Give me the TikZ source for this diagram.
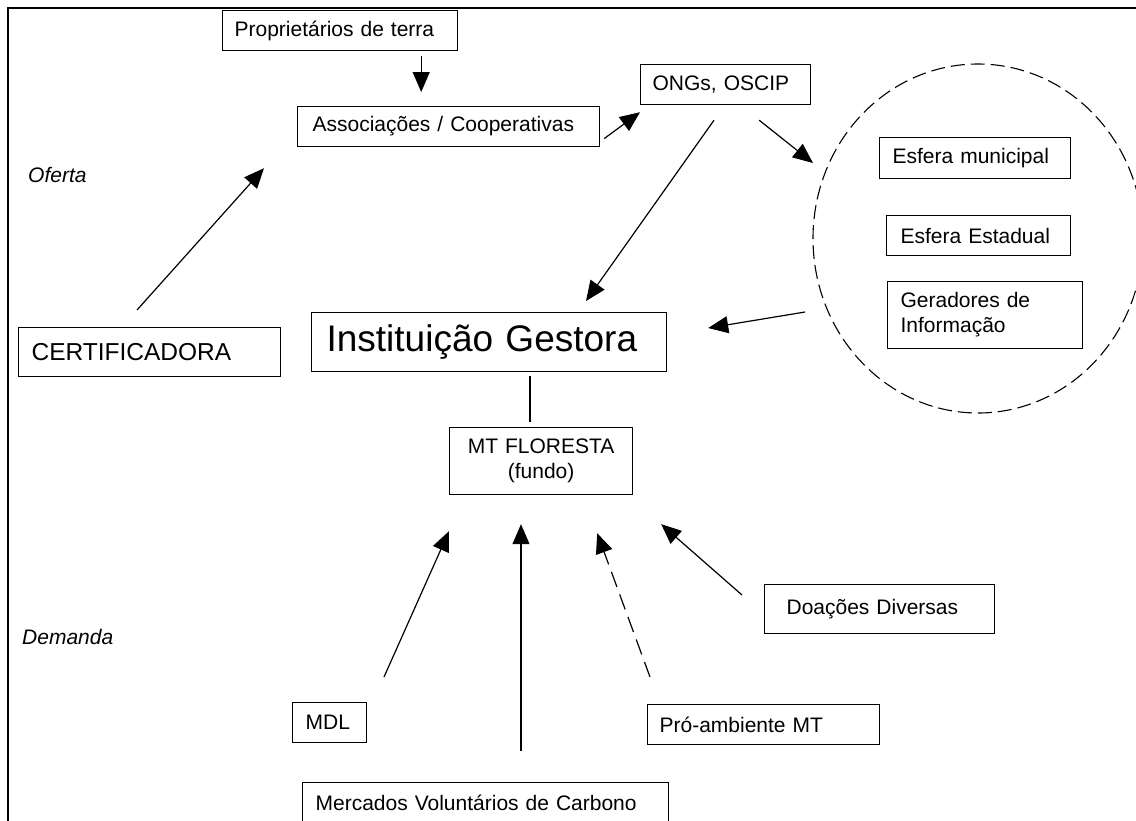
\documentclass[tikz,border=0pt]{standalone}
\usepackage{fontspec}
\setmainfont{Liberation Sans}
\usetikzlibrary{arrows.meta,shapes.geometric}
\tikzset{
  bx/.style={draw, line width=1.2pt, anchor=north west, inner xsep=12pt, inner ysep=0pt, align=left, font=\fontsize{21}{25}\selectfont},
  arr/.style={line width=1.2pt, -{Triangle[length=20pt,width=17pt]}},
  lbl/.style={anchor=west, inner sep=0pt, font=\fontsize{21}{25}\selectfont\itshape},
}
\begin{document}
\begin{tikzpicture}[x=1pt,y=-1pt]
\useasboundingbox (0,0) rectangle (1136,820);
% frame
\draw[line width=1.2pt] (8,840) -- (8,8) -- (1150,8);

% nodes
\node[bx, text width=211pt, minimum height=40pt] (prop) at (222,10) {Proprietários de terra};
\node[bx, inner xsep=15pt, text width=272pt, minimum height=40pt] (assoc) at (297,106) {Associações / Cooperativas};
\node[bx, text width=146pt, minimum height=40pt] (ongs) at (640,64) {ONGs, OSCIP};
\node[draw, dashed, dash pattern=on 14pt off 6pt, line width=1.1pt, ellipse, minimum width=330pt, minimum height=349pt] (esf) at (978,238.5) {};
\node[bx, inner xsep=13pt, text width=165pt, minimum height=41pt] (mun) at (879,137) {Esfera municipal};
\node[bx, inner xsep=14pt, text width=156pt, minimum height=40pt] (est) at (886,215) {Esfera Estadual};
\node[bx, inner xsep=13pt, text width=169pt, minimum height=67pt] (ger) at (887,281) {Geradores de\\Informação};
\node[bx, inner xsep=13pt, text width=236pt, minimum height=49pt, font=\fontsize{24.5}{28}\selectfont] (cert) at (18,327) {CERTIFICADORA};
\node[bx, inner xsep=15pt, text width=325pt, minimum height=59pt, font=\fontsize{37}{42}\selectfont] (inst) at (311,312) {Instituição Gestora};
\node[bx, inner xsep=0pt, align=center, text width=183pt, minimum height=67pt] (mt) at (449,427) {MT FLORESTA\\(fundo)};
\node[bx, inner xsep=22pt, text width=186pt, minimum height=49pt] (doa) at (764,584) {Doações Diversas};
\node[bx, inner xsep=13pt, text width=48pt, minimum height=40pt] (mdl) at (292,702) {MDL};
\node[bx, text width=208pt, minimum height=40pt] (pro) at (647,704) {Pró-ambiente MT};
\node[bx, inner xsep=13pt, text width=340pt, minimum height=40pt] (merc) at (302,782) {Mercados Voluntários de Carbono};

\node[lbl] (oferta) at (28,175) {Oferta};
\node[lbl] (demanda) at (22,637) {Demanda};

% connectors
\coordinate (p1) at ([shift={(-37,5)}]prop.south east);
\draw[arr] (p1) -- ([yshift=14pt]p1 |- assoc.north);
\draw[arr] ([shift={(4,12)}]assoc.east) -- ([shift={(0,7)}]ongs.south west);
\draw[arr] ([shift={(74,15)}]ongs.south west) -- ([shift={(275,-11)}]inst.north west);
\draw[arr] ([shift={(-52,15)}]ongs.south east) -- ([shift={(-165,-75.5)}]esf.center);
\draw[arr] ([shift={(-173,73.5)}]esf.center) -- ([shift={(41,16)}]inst.north east);
\draw[arr] ([shift={(119,-17)}]cert.north west) -- ([shift={(-33,21)}]assoc.south west);
\coordinate (p2) at ([shift={(219,4)}]inst.south west);
\draw[line width=1.2pt] (p2) -- ([yshift=5pt]p2 |- mt.north);
\draw[arr] ([shift={(92,-25)}]mdl.north west) -- ([shift={(0,36)}]mt.south west);
\draw[arr] ([shift={(219,-31)}]merc.north west) -- ([shift={(72,29)}]mt.south west);
\draw[arr, dash pattern=on 16pt off 8pt] ([shift={(3,-27)}]pro.north west) -- ([shift={(-36,38)}]mt.south east);
\draw[arr] ([shift={(-22,11)}]doa.north west) -- ([shift={(28,29)}]mt.south east);
\end{tikzpicture}
\end{document}
